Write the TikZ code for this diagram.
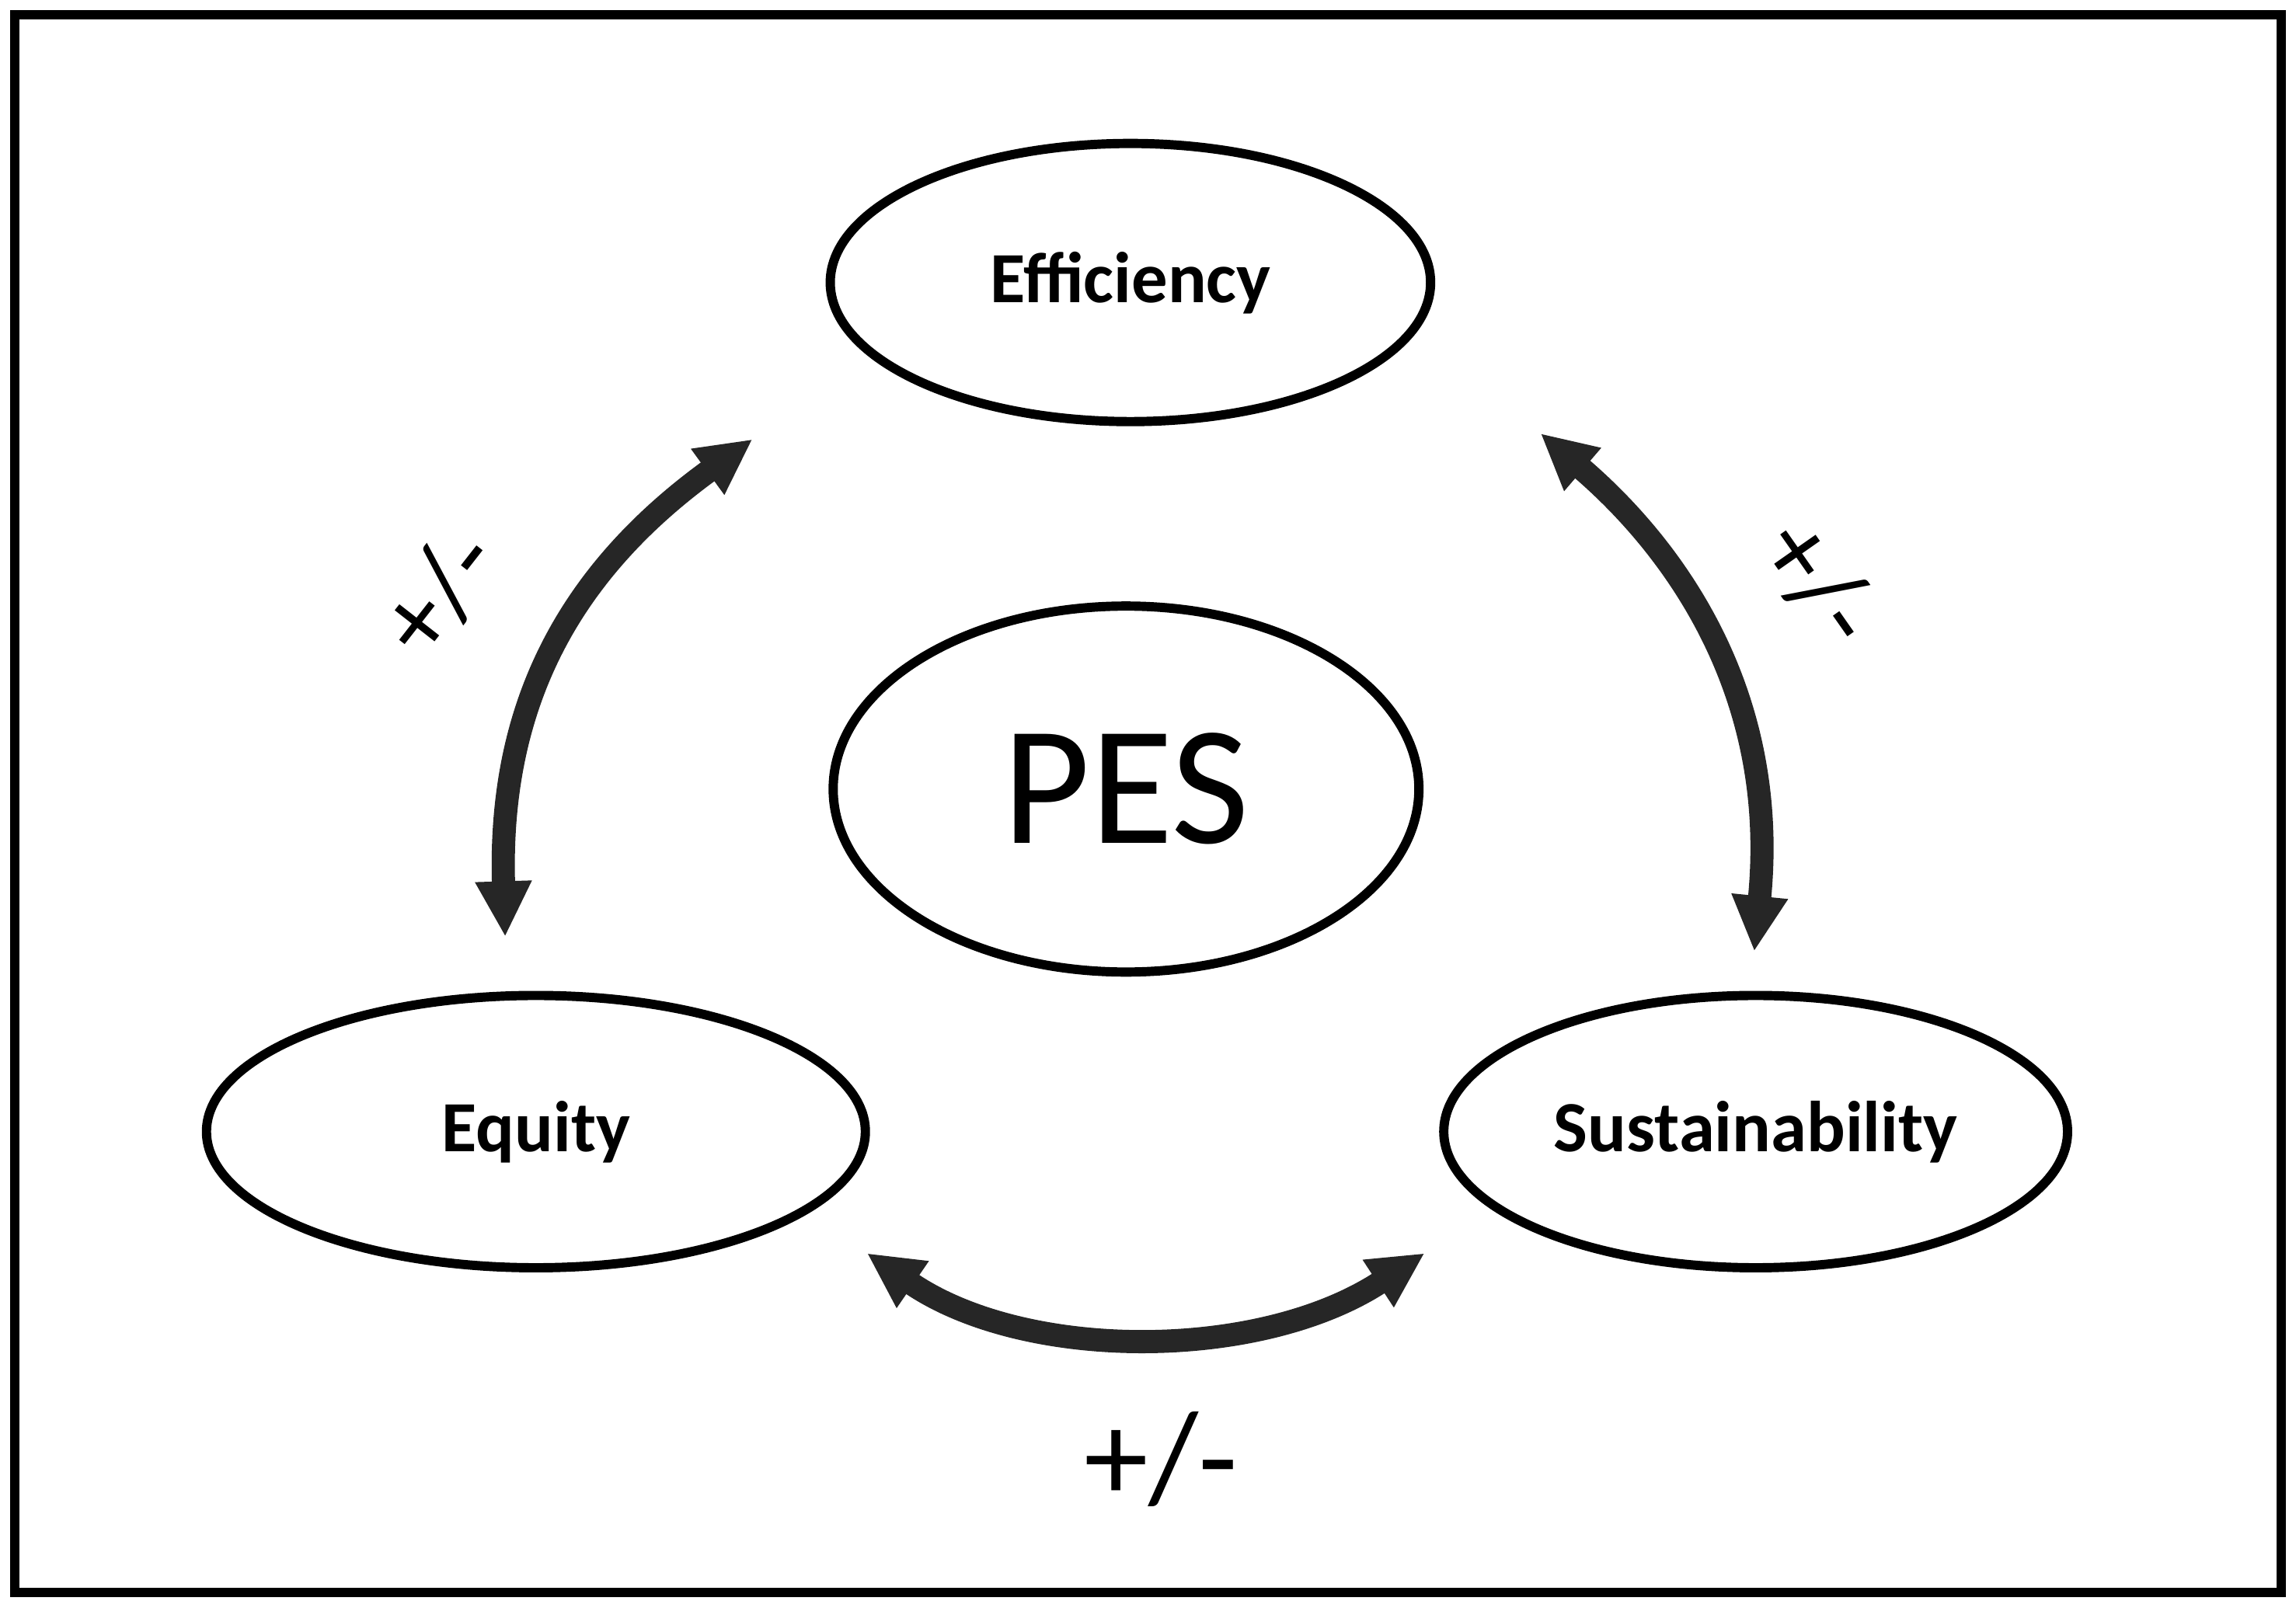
\documentclass[tikz,border=0pt]{standalone}
\usepackage{fontspec}
\setmainfont{Carlito}
\usetikzlibrary{arrows.meta,shapes.geometric}
\begin{document}
\begin{tikzpicture}[x=0.01cm,y=-0.01cm,
  ell/.style={draw,line width=1.8pt,ellipse,inner sep=0pt},
  conn/.style={line width=4.5pt,color=black!85,{Triangle[length=0.38cm,width=0.36cm]}-{Triangle[length=0.38cm,width=0.36cm]}},
  lab/.style={font=\fontsize{21}{24}\selectfont}]
\useasboundingbox (0,0) rectangle (1568,1098);
\draw[line width=1.8pt] (10,10) rectangle (1558,1088);
\node[ell,minimum width=0.01cm*410,minimum height=0.01cm*190] (eff) at (772,193) {};
\node[font=\fontsize{14}{17}\selectfont\bfseries] at (eff) {Efficiency};
\node[ell,minimum width=0.01cm*400,minimum height=0.01cm*250] (pes) at (769,539) {};
\node[font=\fontsize{33}{40}\selectfont] at (pes) {PES};
\node[ell,minimum width=0.01cm*450,minimum height=0.01cm*186] (equ) at (366,773) {};
\node[font=\fontsize{14}{17}\selectfont\bfseries] at (equ) {Equity};
\node[ell,minimum width=0.01cm*426,minimum height=0.01cm*186] (sus) at (1199,773) {};
\node[font=\fontsize{14}{17}\selectfont\bfseries] at (sus) {Sustainability};
\coordinate (a1) at (345,640);
\coordinate (a2) at (514,300);
\coordinate (b1) at (1052,296);
\coordinate (b2) at (1198,650);
\coordinate (c1) at (592,856);
\coordinate (c2) at (973,856);
\draw[conn] (a1) .. controls (340,480) and (390,390) .. (a2);
\draw[conn] (b1) .. controls (1150,380) and (1215,480) .. (b2);
\draw[conn] (c1) .. controls (700,930) and (860,930) .. (c2);
\node[lab,rotate=52] (l1) at (300,405) {+/-};
\node[lab,rotate=-55] (l2) at (1243,398) {+/-};
\node[font=\fontsize{25}{28}\selectfont] (l3) at (793,997) {+/-};
\end{tikzpicture}
\end{document}
